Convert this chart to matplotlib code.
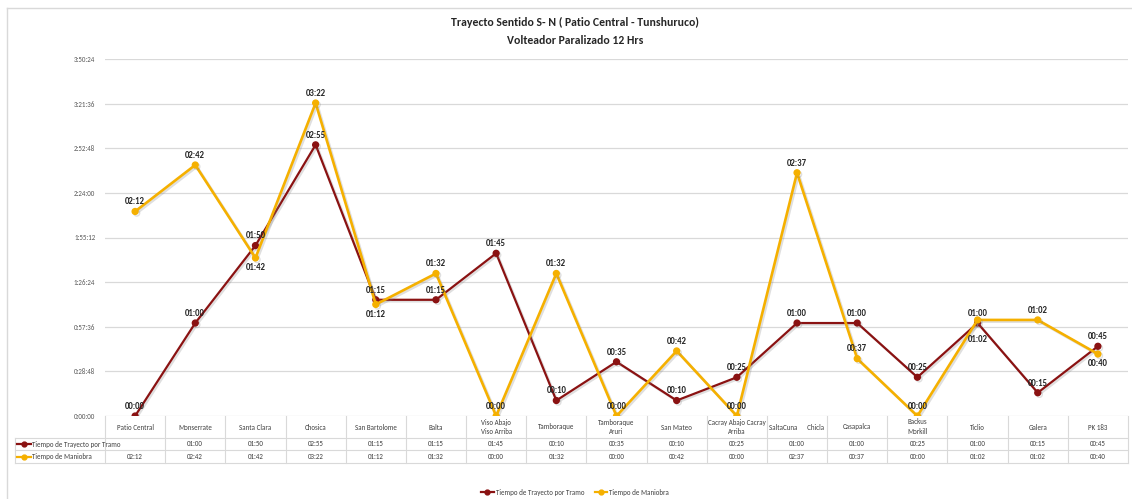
import matplotlib
matplotlib.use('Agg')
import matplotlib.pyplot as plt
from matplotlib import font_manager
from matplotlib.lines import Line2D
import matplotlib.transforms as mtrans
import matplotlib.patheffects as pe

W, H = 1132, 499

categories = ["Patio Central", "Monserrate", "Santa Clara", "Chosica", "San Bartolome",
              "Balta", "Viso Abajo\nViso Arriba", "Tamboraque", "Tamboraque\nAruri",
              "San Mateo", "Cacray Abajo Cacray\nArriba", "SaltaCuna      Chicla",
              "Casapalca", "Backus\nMorkill", "Ticlio", "Galera", "PK 183"]
trayecto = ["", "01:00", "01:50", "02:55", "01:15", "01:15", "01:45", "00:10", "00:35",
            "00:10", "00:25", "01:00", "01:00", "00:25", "01:00", "00:15", "00:45"]
maniobra = ["02:12", "02:42", "01:42", "03:22", "01:12", "01:32", "00:00", "01:32", "00:00",
            "00:42", "00:00", "02:37", "00:37", "00:00", "01:02", "01:02", "00:40"]
series_names = ["Tiempo de Trayecto por Tramo", "Tiempo de Maniobra"]
# label placement ('a' above, 'b' below, 'B' further below with leader line)
pos_trayecto = ["a"] * 17
pos_maniobra = ["a", "a", "b", "a", "b", "a", "a", "a", "a", "a", "a", "a", "a", "a", "B", "a", "b"]
y_max = 230.4     # minutes (3:50:24)
y_step = 28.8     # minutes (0:28:48)

names = {f.name for f in font_manager.fontManager.ttflist}
FONT = next((f for f in ["Carlito", "Liberation Sans Narrow", "Lato"] if f in names), "DejaVu Sans")
plt.rcParams['font.family'] = FONT

RED = '#8A1212'
GOLD = '#F5B000'
GRID = '#D9D9D9'
TXT = '#404040'


def to_min(s):
    if s == "":
        return 0.0
    h, m = s.split(":")
    return int(h) * 60 + int(m)


def fmt_hms(v):
    s = int(round(v * 60))
    return f"{s // 3600}:{(s % 3600) // 60:02d}:{s % 60:02d}"


def fx(px):
    return px / W


def fy(py):
    return 1 - py / H


fig = plt.figure(figsize=(W / 100, H / 100), dpi=100)
ax = fig.add_axes([fx(105), fy(416), (1128 - 105) / W, (416 - 59) / H])

x = list(range(len(categories)))
ty = [to_min(v) for v in trayecto]
my = [to_min(v) for v in maniobra]

shadow = [pe.SimpleLineShadow(offset=(1.2, -1.2), alpha=0.25, shadow_color='gray'), pe.Normal()]
ax.plot(x, ty, color=RED, lw=1.6, marker='o', ms=4.2, zorder=3, path_effects=shadow)
ax.plot(x, my, color=GOLD, lw=1.9, marker='o', ms=4.2, zorder=4, path_effects=shadow)

OFFS = {'a': 7, 'b': -7, 'B': -14}
for xi, v, s, p in zip(x, ty, trayecto, pos_trayecto):
    lab = s if s else "00:00"
    ax.annotate(lab, (xi, v), xytext=(0, OFFS[p]), textcoords='offset points', ha='center',
                va='center', fontsize=6.3, color='#262626', fontweight='bold', zorder=6)
for xi, v, s, p in zip(x, my, maniobra, pos_maniobra):
    kw = {}
    if p == 'B':
        kw['arrowprops'] = dict(arrowstyle='-', color='#7F7F7F', lw=0.6, shrinkA=4, shrinkB=3)
    ax.annotate(s, (xi, v), xytext=(0, OFFS[p]), textcoords='offset points', ha='center',
                va='center', fontsize=6.3, color='#262626', fontweight='bold', zorder=6, **kw)

ax.set_xlim(-0.5, len(categories) - 0.5)
ax.set_ylim(0, y_max)
ticks = [i * y_step for i in range(9)]
ax.set_yticks(ticks)
ax.set_yticklabels([fmt_hms(t) for t in ticks], fontsize=5, color='#595959')
ax.tick_params(axis='y', length=0, pad=7)
ax.set_xticks([])
ax.grid(axis='y', color=GRID, lw=0.9)
ax.set_axisbelow(True)
for sp in ax.spines.values():
    sp.set_visible(False)

# data table
blend = mtrans.blended_transform_factory(ax.transData, fig.transFigure)
n = len(categories)
for yy, x0 in [(438, fx(15)), (450, fx(15)), (463, fx(15))]:
    fig.add_artist(Line2D([x0, fx(1128)], [fy(yy)] * 2, color=GRID, lw=0.8))
fig.add_artist(Line2D([fx(15)] * 2, [fy(438), fy(463)], color=GRID, lw=0.8))
for i in range(n + 1):
    fig.add_artist(Line2D([i - 0.5] * 2, [fy(416), fy(463)], color=GRID, lw=0.8, transform=blend))
for i, c in enumerate(categories):
    fig.text(i, fy(427), c, transform=blend, ha='center', va='center', fontsize=5,
             color=TXT, linespacing=1.5)
    fig.text(i, fy(444), trayecto[i], transform=blend, ha='center', va='center', fontsize=5,
             color=TXT)
    fig.text(i, fy(456.5), maniobra[i], transform=blend, ha='center', va='center', fontsize=5,
             color=TXT)
for yy, col, name in [(444, RED, series_names[0]), (456.5, GOLD, series_names[1])]:
    fig.add_artist(Line2D([fx(17), fx(31)], [fy(yy)] * 2, color=col, lw=1.6))
    fig.add_artist(Line2D([fx(24)], [fy(yy)], color=col, marker='o', ms=3.5))
    fig.text(fx(31.5), fy(yy), name, ha='left', va='center', fontsize=5, color=TXT)

# bottom legend
handles = [Line2D([], [], color=RED, lw=1.6, marker='o', ms=3.5),
           Line2D([], [], color=GOLD, lw=1.6, marker='o', ms=3.5)]
fig.legend(handles, series_names, loc='center', bbox_to_anchor=(fx(575), fy(492)), ncol=2,
           frameon=False, fontsize=5, handlelength=1.8, handletextpad=0.3, columnspacing=1.5,
           labelcolor=TXT)

# title
fig.text(fx(575), fy(22), "Trayecto Sentido S- N ( Patio Central - Tunshuruco)", ha='center',
         va='center', fontsize=8.5, fontweight='bold', color='#262626')
fig.text(fx(575), fy(41), "Volteador Paralizado 12 Hrs", ha='center', va='center',
         fontsize=8.5, fontweight='bold', color='#262626')

# chart border
fig.add_artist(Line2D([fx(7), 1], [fy(8)] * 2, color=GRID, lw=1))
fig.add_artist(Line2D([fx(7)] * 2, [fy(8), 0], color=GRID, lw=1))

fig.savefig('out.png', dpi=100)
